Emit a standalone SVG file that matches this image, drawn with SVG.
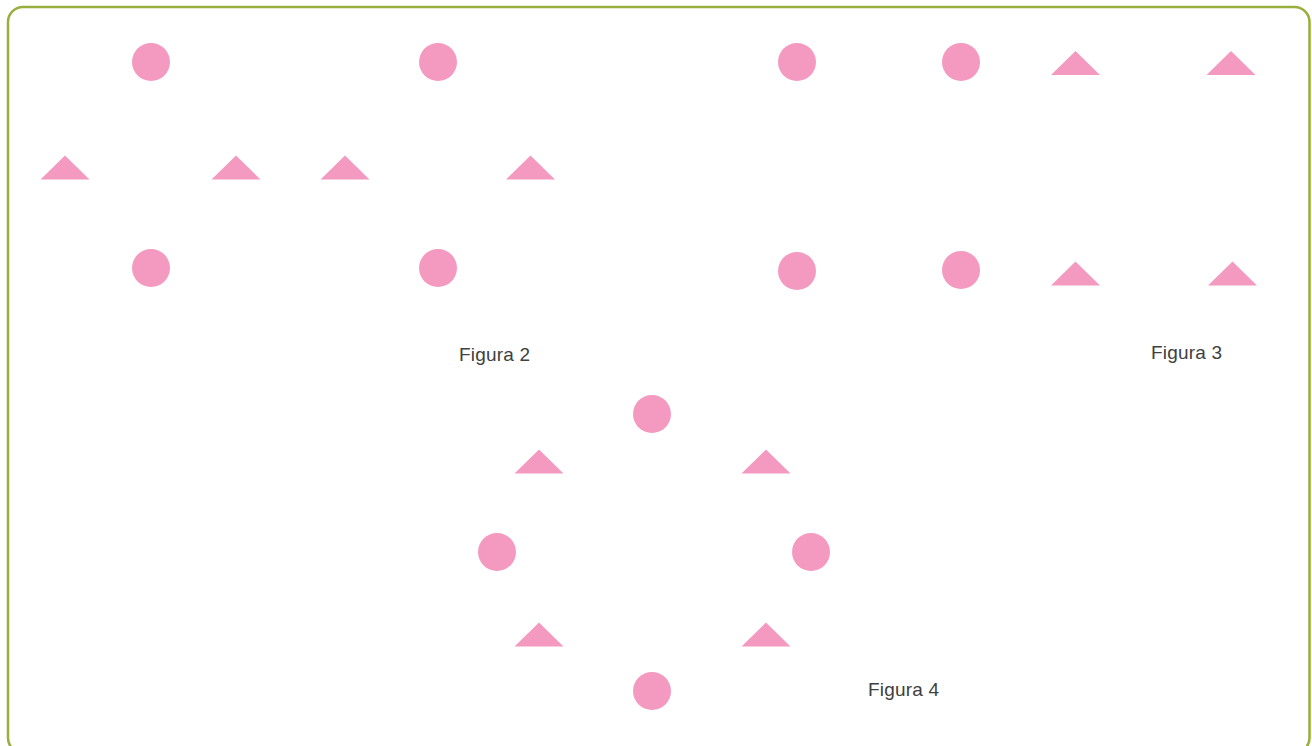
<svg xmlns="http://www.w3.org/2000/svg" width="1312" height="746" viewBox="0 0 1312 746">
<defs>
<style>
.c{fill:#f49ac1}
.t{fill:#f49ac1}
.l{font-family:"Liberation Sans",Arial,sans-serif;font-size:19px;fill:#404040}
</style>
<circle id="dot" cx="0" cy="0" r="19" class="c"/>
<polygon id="tri" points="-24.5,0 0,-24 24.5,0" class="t"/>
</defs>
<rect x="8" y="7" width="1301.5" height="746" rx="15" ry="15" fill="#ffffff" stroke="#98ae3d" stroke-width="2.5"/>
<g id="figura2">
<use href="#dot" x="151" y="62"/>
<use href="#dot" x="438" y="62"/>
<use href="#tri" x="65" y="179.5"/>
<use href="#tri" x="236" y="179.5"/>
<use href="#tri" x="345" y="179.5"/>
<use href="#tri" x="530.5" y="179.5"/>
<use href="#dot" x="151" y="268"/>
<use href="#dot" x="438" y="268"/>
<text class="l" x="459" y="361" textLength="71">Figura 2</text>
</g>
<g id="figura3">
<use href="#dot" x="797" y="62"/>
<use href="#dot" x="961" y="62"/>
<use href="#tri" x="1075.5" y="75"/>
<use href="#tri" x="1231" y="75"/>
<use href="#dot" x="797" y="271"/>
<use href="#dot" x="961" y="270"/>
<use href="#tri" x="1075.5" y="285.5"/>
<use href="#tri" x="1232.5" y="285.5"/>
<text class="l" x="1151" y="359" textLength="71">Figura 3</text>
</g>
<g id="figura4">
<use href="#dot" x="652" y="414"/>
<use href="#tri" x="539" y="473.5"/>
<use href="#tri" x="766" y="473.5"/>
<use href="#dot" x="497" y="552"/>
<use href="#dot" x="811" y="552"/>
<use href="#tri" x="539" y="646.5"/>
<use href="#tri" x="766" y="646.5"/>
<use href="#dot" x="652" y="691"/>
<text class="l" x="868" y="696" textLength="71">Figura 4</text>
</g>
<g id="connectors"/>
</svg>
